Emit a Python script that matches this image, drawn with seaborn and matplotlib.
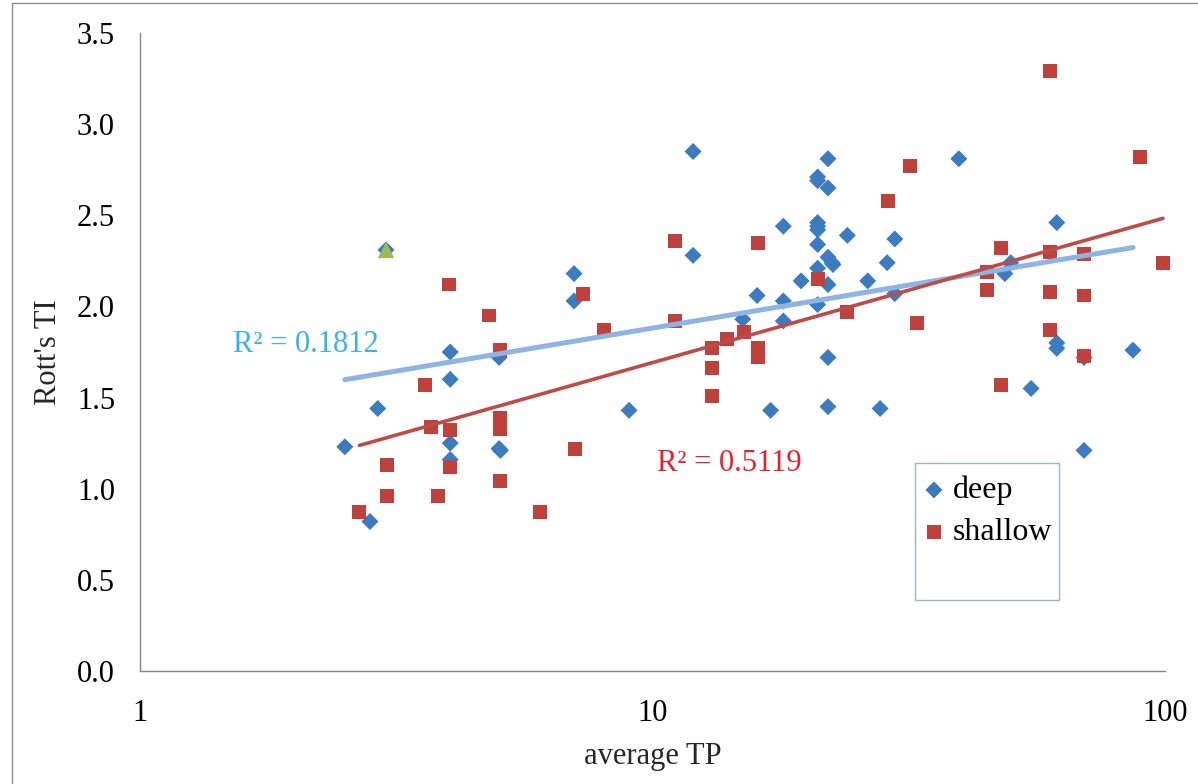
import numpy as np
import pandas as pd
import matplotlib
matplotlib.use("Agg")
import matplotlib.pyplot as plt
from matplotlib.patches import Rectangle
import seaborn as sns

# ---- data ----
deep_tp = [2.51, 2.81, 2.91, 3.02, 4.03, 4.03, 4.03, 4.03, 5.02, 5.02, 5.05,
           7.03, 7.03, 9.0, 12.0, 12.0, 15.0, 16.0, 18.0, 18.0, 18.0, 17.0,
           19.5, 22.0, 21.0, 21.0, 22.0, 21.0, 21.0, 21.0, 24.0, 21.0, 29.7,
           22.0, 22.4, 22.5, 28.7, 22.0, 26.3, 21.0, 21.0, 29.7, 22.0, 22.0,
           27.8, 39.6, 61.5, 48.7, 50.0, 61.5, 61.5, 69.5, 86.6, 54.8, 69.5]
deep_ti = [1.23, 0.82, 1.44, 2.31, 1.75, 1.60, 1.25, 1.16, 1.72, 1.22, 1.21,
           2.18, 2.03, 1.43, 2.85, 2.28, 1.93, 2.06, 2.44, 2.03, 1.92, 1.43,
           2.14, 2.81, 2.71, 2.69, 2.65, 2.46, 2.44, 2.42, 2.39, 2.34, 2.37,
           2.27, 2.24, 2.23, 2.24, 2.12, 2.14, 2.21, 2.01, 2.07, 1.72, 1.45,
           1.44, 2.81, 2.46, 2.18, 2.24, 1.80, 1.77, 1.72, 1.76, 1.55, 1.21]

shallow_tp = [4.01, 4.8, 7.32, 8.04, 5.04, 3.6, 3.70, 4.03, 5.04, 5.04, 3.03,
              4.03, 7.06, 5.04, 3.03, 3.82, 2.68, 6.03, 11.06, 16.07, 31.8,
              28.8, 21.0, 11.06, 24.0, 32.8, 15.1, 14.0, 13.06, 16.07, 16.07,
              13.06, 13.06, 59.6, 89.4, 47.9, 59.6, 69.5, 44.9, 44.9, 59.6,
              69.5, 99.1, 59.6, 69.5, 47.9]
shallow_ti = [2.12, 1.95, 2.07, 1.87, 1.76, 1.57, 1.34, 1.32, 1.39, 1.33, 1.13,
              1.12, 1.22, 1.04, 0.96, 0.96, 0.87, 0.87, 2.36, 2.35, 2.77,
              2.58, 2.15, 1.92, 1.97, 1.91, 1.86, 1.82, 1.77, 1.77, 1.72,
              1.66, 1.51, 3.29, 2.82, 2.32, 2.30, 2.29, 2.19, 2.09, 2.08,
              2.06, 2.24, 1.87, 1.73, 1.57]

extra_tp = [3.02]
extra_ti = [2.31]

series_names = ["deep", "shallow"]
r2_labels = ["R² = 0.1812", "R² = 0.5119"]
x_ticks = [1, 10, 100]
y_ticks = [0.0, 0.5, 1.0, 1.5, 2.0, 2.5, 3.0, 3.5]

deep = pd.DataFrame({"tp": deep_tp, "ti": deep_ti})
shallow = pd.DataFrame({"tp": shallow_tp, "ti": shallow_ti})
extra = pd.DataFrame({"tp": extra_tp, "ti": extra_ti})

# ---- style ----
sns.set_style("white")
plt.rcParams["font.family"] = ["Liberation Serif", "DejaVu Serif"]

blue = "#3D7BC0"
red = "#BF413C"
green = "#9BBB59"
blue_line = "#8DB4E2"
red_line = "#BE4B48"
axis_gray = "#868686"

fig = plt.figure(figsize=(11.98, 7.84), dpi=100)
ax = fig.add_axes([140 / 1198, 1 - 671 / 784, (1165 - 140) / 1198, (671 - 33) / 784])

sns.scatterplot(data=deep, x="tp", y="ti", marker="D", s=75, color=blue,
                edgecolor="none", label=series_names[0], ax=ax, zorder=3,
                clip_on=False)
sns.scatterplot(data=shallow, x="tp", y="ti", marker="s", s=100, color=red,
                edgecolor="none", label=series_names[1], ax=ax, zorder=3,
                clip_on=False)
sns.scatterplot(data=extra, x="tp", y="ti", marker="^", s=140, color=green,
                edgecolor="none", ax=ax, zorder=4, legend=False, clip_on=False)

sns.regplot(data=deep, x="tp", y="ti", logx=True, ci=None, scatter=False,
            ax=ax, line_kws={"color": blue_line, "lw": 3.6, "zorder": 5,
                             "solid_capstyle": "round"})
sns.regplot(data=shallow, x="tp", y="ti", logx=True, ci=None, scatter=False,
            ax=ax, line_kws={"color": red_line, "lw": 2.6, "zorder": 6,
                             "solid_capstyle": "round"})

ax.set_xscale("log")
ax.set_xlim(1, 100)
ax.set_ylim(0, 3.5)
ax.set_xticks(x_ticks)
ax.set_xticklabels([str(t) for t in x_ticks])
ax.xaxis.set_minor_locator(matplotlib.ticker.NullLocator())
ax.set_yticks(y_ticks)
ax.set_yticklabels([f"{t:.1f}" for t in y_ticks])
ax.tick_params(axis="both", labelsize=22, colors=axis_gray, labelcolor="black",
               length=8, width=1, direction="out", pad=6)
ax.tick_params(axis="y", pad=10)
ax.tick_params(axis="x", pad=12)

for side in ["top", "right"]:
    ax.spines[side].set_visible(False)
for side in ["left", "bottom"]:
    ax.spines[side].set_color(axis_gray)
    ax.spines[side].set_linewidth(1)

ax.set_xlabel("average TP", fontsize=22, labelpad=10)
ax.set_ylabel("Rott's TI", fontsize=22, labelpad=10)

ax.text(1.52, 1.79, r2_labels[0], color="#38B2E8", fontsize=22,
        va="center", ha="left")
ax.text(10.2, 1.14, r2_labels[1], color="#E8202A", fontsize=22,
        va="center", ha="left")

# legend with a box
leg = ax.legend(loc="upper left",
                bbox_to_anchor=((902 - 140) / 1025, (671 - 463) / 638),
                frameon=False, fontsize=23, handletextpad=0.0,
                labelspacing=0.4, borderaxespad=0, markerscale=1.0,
                handlelength=1.2)
for t in leg.get_texts():
    t.set_color("black")
ax.add_patch(Rectangle(((915 - 140) / 1025, (671 - 600) / 638),
                       (1059 - 915) / 1025, (600 - 463) / 638,
                       transform=ax.transAxes, fill=False,
                       edgecolor="#95B3D7", lw=1, zorder=2))

# outer chart border
fig.patches.append(Rectangle((12 / 1198, -0.1), 1.2, 1.1 - 3 / 784,
                             transform=fig.transFigure, fill=False,
                             edgecolor="#8C8C8C", lw=1))

fig.savefig("out.png", dpi=100)
